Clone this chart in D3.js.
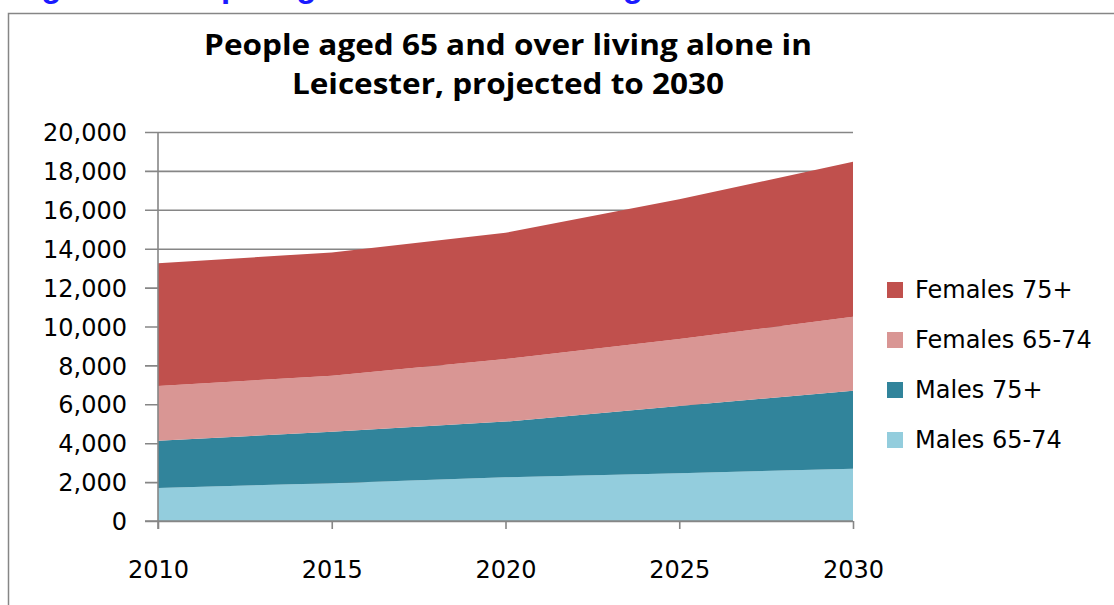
<!DOCTYPE html>
<html>
<head>
<meta charset="utf-8">
<script src="https://cdn.jsdelivr.net/npm/d3@7"></script>
<style>
  html, body { margin: 0; padding: 0; background: #fff; overflow: hidden; }
  svg { display: block; }
</style>
</head>
<body>
<svg id="chart" width="1114" height="605"></svg>
<script>
// Projected numbers of people aged 65+ living alone in Leicester
const years = [2010, 2015, 2020, 2025, 2030];
const males6574   = [1700, 1940, 2250, 2450, 2690];
const males75     = [2430, 2650, 2860, 3460, 4010];
const females6574 = [2810, 2880, 3220, 3450, 3800];
const females75   = [6310, 6340, 6490, 7180, 7970];

const seriesNames  = ["Males 65-74", "Males 75+", "Females 65-74", "Females 75+"];
const seriesColors = ["#93CDDD", "#31849B", "#D99694", "#C0504D"];
const yTicks = [0, 2000, 4000, 6000, 8000, 10000, 12000, 14000, 16000, 18000, 20000];

const heading = "Figure 9: People aged 65 and over living alone in Leicester";
const titleLines = ["People aged 65 and over living alone in", "Leicester, projected to 2030"];

const table = years.map((y, i) => ({
  year: y,
  "Males 65-74": males6574[i],
  "Males 75+": males75[i],
  "Females 65-74": females6574[i],
  "Females 75+": females75[i]
}));

const svg = d3.select("#chart");
const grey = "#868686";

// document heading running above the chart frame
svg.append("text")
  .attr("x", 12).attr("y", -3)
  .attr("font-family", "'Liberation Sans', Arial, sans-serif")
  .attr("font-weight", "bold").attr("font-size", 33)
  .attr("fill", "#1a1aff")
  .text(heading);

// chart frame
svg.append("rect")
  .attr("x", 8.5).attr("y", 13.5)
  .attr("width", 1200).attr("height", 700)
  .attr("fill", "#fff").attr("stroke", grey).attr("stroke-width", 1.5);

const plot = { left: 158, right: 853, top: 132, bottom: 521 };

const x = d3.scaleLinear().domain([2010, 2030]).range([plot.left, plot.right]);
const y = d3.scaleLinear().domain([0, 20000]).range([plot.bottom, plot.top]);

// horizontal gridlines with tick stubs
const yAxis = d3.axisLeft(y).tickValues(yTicks)
  .tickSize(-(plot.right - plot.left))
  .tickSizeOuter(0)
  .tickFormat(d3.format(","));
const gy = svg.append("g").attr("transform", `translate(${plot.left},0)`).call(yAxis);
gy.select(".domain").remove();
gy.selectAll(".tick line")
  .attr("x1", -13)
  .attr("stroke", grey).attr("stroke-width", 1.6);
gy.selectAll(".tick text")
  .attr("x", -31).attr("dy", "0.36em")
  .attr("font-family", "'DejaVu Sans', Verdana, sans-serif")
  .attr("font-size", 24).attr("fill", "#000");

// stacked areas
const stack = d3.stack().keys(seriesNames);
const layers = stack(table);
const area = d3.area()
  .x(d => x(d.data.year))
  .y0(d => y(d[0]))
  .y1(d => y(d[1]));

svg.append("g").selectAll("path")
  .data(layers)
  .join("path")
  .attr("d", area)
  .attr("fill", (d, i) => seriesColors[i]);

// left axis line
svg.append("line")
  .attr("x1", plot.left).attr("x2", plot.left)
  .attr("y1", plot.top).attr("y2", plot.bottom + 8)
  .attr("stroke", grey).attr("stroke-width", 1.6);

// bottom axis
const xAxis = d3.axisBottom(x).tickValues(years).tickSize(8).tickSizeOuter(0).tickFormat(d3.format("d"));
const gx = svg.append("g").attr("transform", `translate(0,${plot.bottom})`).call(xAxis);
gx.select(".domain").attr("stroke", grey).attr("stroke-width", 1.6)
  .attr("d", `M${plot.left - 13},0H${plot.right}`);
gx.selectAll(".tick line").attr("stroke", grey).attr("stroke-width", 1.6);
gx.selectAll(".tick text")
  .attr("y", 0).attr("dy", 0)
  .attr("transform", "translate(0,57)")
  .attr("font-family", "'DejaVu Sans', Verdana, sans-serif")
  .attr("font-size", 24).attr("fill", "#000");

// title, stretched a little wider than the font's natural set width
const title = svg.append("text")
  .attr("text-anchor", "middle")
  .attr("font-family", "'Open Sans', sans-serif")
  .attr("font-weight", "bold").attr("font-size", 28)
  .attr("fill", "#000");
title.selectAll("tspan")
  .data(titleLines)
  .join("tspan")
  .attr("x", 508)
  .attr("y", (d, i) => 55 + i * 39)
  .text(d => d)
  .each(function () {
    const w = this.getComputedTextLength();
    d3.select(this).attr("textLength", w * 1.125).attr("lengthAdjust", "spacingAndGlyphs");
  });

// legend, top entry is the top layer
const legend = svg.append("g");
const legendItems = seriesNames.map((n, i) => ({ name: n, color: seriesColors[i] })).reverse();
const li = legend.selectAll("g")
  .data(legendItems)
  .join("g")
  .attr("transform", (d, i) => `translate(887,${282 + i * 50})`);
li.append("rect").attr("width", 16).attr("height", 16).attr("fill", d => d.color);
li.append("text")
  .attr("x", 28).attr("y", 16)
  .attr("font-family", "'DejaVu Sans', Verdana, sans-serif")
  .attr("font-size", 24).attr("fill", "#000")
  .text(d => d.name);
</script>
</body>
</html>
